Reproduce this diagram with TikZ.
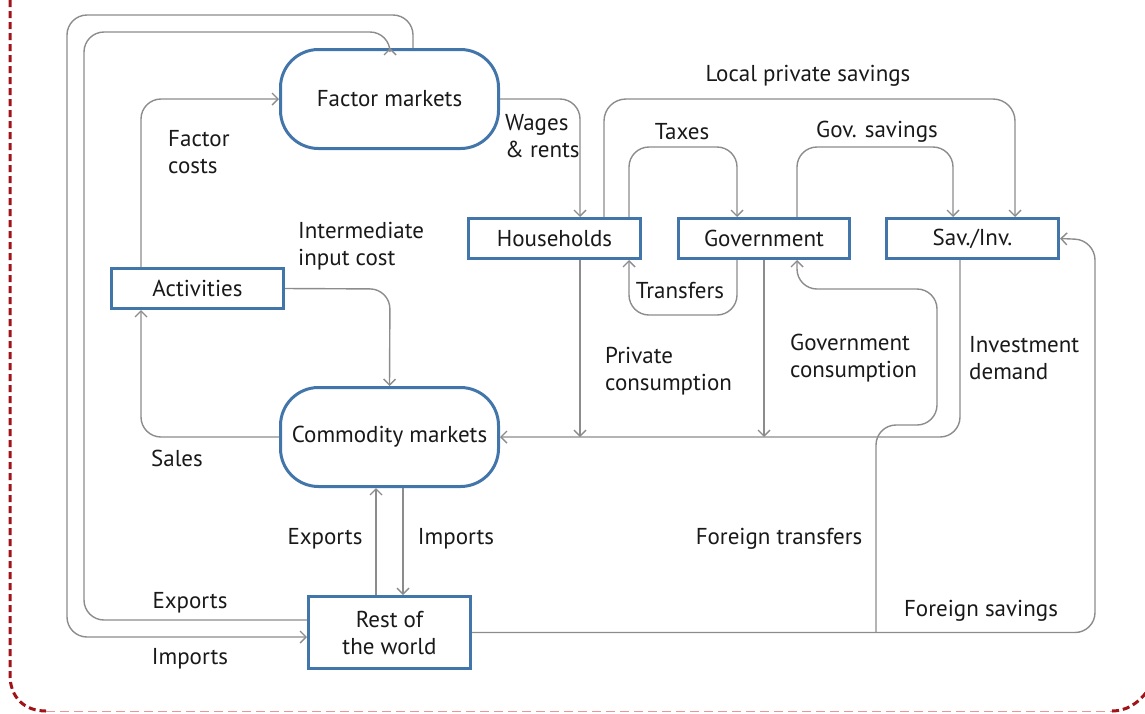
\documentclass[tikz,border=0pt]{standalone}
\usepackage{fontspec}
\setmainfont{PT Sans}
\usetikzlibrary{arrows.meta,calc}
\definecolor{boxblue}{RGB}{66,117,170}
\definecolor{flowgray}{RGB}{140,140,140}
\definecolor{txt}{RGB}{25,25,25}
\definecolor{bordred}{RGB}{160,20,25}
\definecolor{bordpink}{RGB}{232,150,150}
\tikzset{
  sqbox/.style={draw=boxblue, line width=3pt, fill=white, inner sep=0pt, text=txt},
  rndbox/.style={sqbox, rounded corners=38pt},
  flow/.style={draw=flowgray, line width=1.4pt, rounded corners=20pt,
    -{Straight Barb[length=6pt,width=12pt,line width=1.4pt]}},
  lbl/.style={text=txt, inner sep=0pt, align=left, yshift=-2pt},
}
\begin{document}
\begin{tikzpicture}[x=1pt,y=-1pt,font=\fontsize{23}{27}\selectfont]
\useasboundingbox (0,0) rectangle (1145,713);
% border
\draw[bordred, line width=3pt, dash pattern=on 7pt off 4pt] (10,0) -- (10,675) .. controls (10,697) and (24,711) .. (46,711);
\draw[bordpink, line width=1pt, dash pattern=on 9pt off 5pt] (46,711) -- (1112,711);
\draw[bordred, line width=3pt, dash pattern=on 7pt off 4pt] (1112,711) .. controls (1126,711) and (1138,704) .. (1148,690);

% nodes
\node[rndbox, minimum width=218pt, minimum height=99pt] (fm) at (389.5,99) {Factor markets};
\node[rndbox, minimum width=218pt, minimum height=99pt] (cm) at (389.5,437) {Commodity markets};
\node[sqbox, minimum width=172pt, minimum height=40pt] (act) at (197.5,288.5) {Activities};
\node[sqbox, minimum width=172pt, minimum height=40pt] (hh) at (554.5,238.5) {Households};
\node[sqbox, minimum width=171pt, minimum height=40pt] (gov) at (764,238.5) {Government};
\node[sqbox, minimum width=172pt, minimum height=40pt] (sav) at (972.5,238.5) {Sav./Inv.};
\node[sqbox, minimum width=162pt, minimum height=72pt, align=center] (row) at (389.5,632.5) {Rest of\\the world};

\coordinate (pcend) at (580,437);
\coordinate (gcend) at (764,437);
\coordinate (ftstart) at (876,632.5);

% connectors
\draw[flow] (413,0 |- fm.north) -- (413,15) -- (67,15) -- (67,637) -- (row.west |- 0,637);
\draw[flow] (row.west |- 0,620) -- (84,620) -- (84,32) -- (390,32) -- (390,0 |- fm.north);
\draw[flow] (141,0 |- act.north) -- (141,99) -- (fm.west);
\draw[flow] (cm.west) -- (141,437) -- (141,0 |- act.south);
\draw[flow] (act.east) -- (390,289) -- (cm.north);
\draw[flow] (fm.east) -- (580,99) -- (580,0 |- hh.north);
\draw[flow, rounded corners=22pt] (604,0 |- hh.north) -- (604,99) -- (1015,99) -- (1015,0 |- sav.north);
\draw[flow] (629,0 |- hh.north) -- (629,147) -- (737,147) -- (737,0 |- gov.north);
\draw[flow] (797,0 |- gov.north) -- (797,147) -- (953,147) -- (953,0 |- sav.north);
\draw[flow] (737,0 |- gov.south) -- (737,315) -- (629,315) -- (629,0 |- hh.south);
\draw[flow] (580,0 |- hh.south) -- (pcend);
\draw[flow] (764,0 |- gov.south) -- (gcend);
\draw[flow] (960,0 |- sav.south) -- (960,437) -- (cm.east);
\draw[flow] (row.east) -- (1095,632.5) -- (1095,240) -- (sav.east);
\draw[flow] (ftstart) -- (876,425) -- (937,425) -- (937,289) -- (797,289) -- (797,0 |- gov.south);
\draw[flow] (376,0 |- row.north) -- (376,0 |- cm.south);
\draw[flow] (403,0 |- cm.south) -- (403,0 |- row.north);

% labels
\node[lbl] at (808,74) {Local private savings};
\node[lbl] at (682,130) {Taxes};
\node[lbl] at (877,130) {Gov. savings};
\node[lbl, anchor=west] at (168,150.5) {Factor\\costs};
\node[lbl, anchor=west] at (298,244.5) {Intermediate\\input cost};
\node[lbl, anchor=west] at (505,134.5) {Wages\\\& rents};
\node[lbl] at (680,289) {Transfers};
\node[lbl, anchor=west] at (605,369) {Private\\consumption};
\node[lbl, anchor=west] at (790,356.5) {Government\\consumption};
\node[lbl, anchor=west] at (969,356.5) {Investment\\demand};
\node[lbl] at (177,456) {Sales};
\node[lbl] at (325,537) {Exports};
\node[lbl] at (456,537) {Imports};
\node[lbl] at (779,537) {Foreign transfers};
\node[lbl] at (190,601) {Exports};
\node[lbl] at (190,657) {Imports};
\node[lbl] at (981,609) {Foreign savings};
\end{tikzpicture}
\end{document}
